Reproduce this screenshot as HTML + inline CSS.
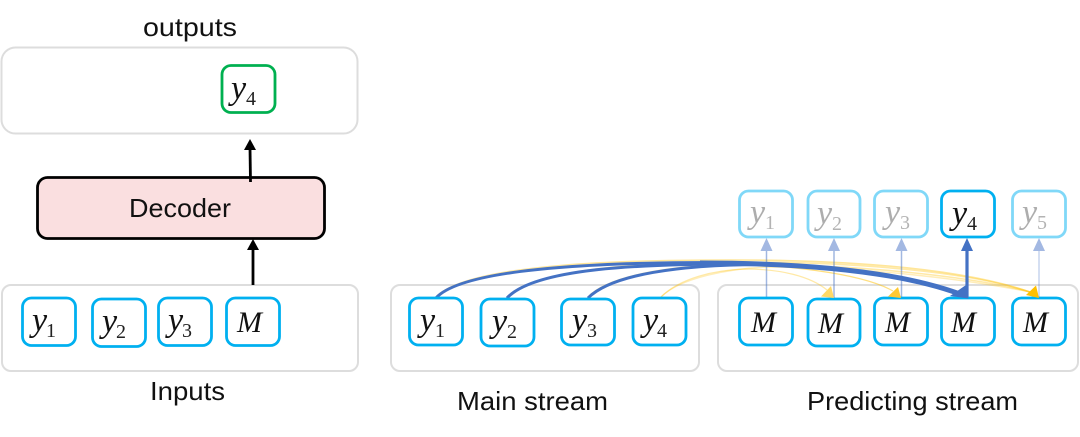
<!DOCTYPE html>
<html><head><meta charset="utf-8"><style>
html,body{margin:0;padding:0;background:#fff;width:1080px;height:437px;overflow:hidden}
svg{display:block}
.t{font-family:"Liberation Sans",sans-serif;font-size:26px;fill:#111}
.v{font-family:"Liberation Serif",serif;font-style:italic;font-size:34px;fill:#111}
.m{font-family:"Liberation Serif",serif;font-style:italic;font-size:30px;fill:#111}
.s{font-family:"Liberation Serif",serif;font-size:20px;fill:#222}
.g{fill:none;stroke:#ddd;stroke-width:2}
.b{fill:#fff;stroke:#00b0f0;stroke-width:2.8}
.l{fill:#fff;stroke:#80d8f8;stroke-width:2.8}
.f{opacity:.34}
</style></head><body>
<svg width="1080" height="437" viewBox="0 0 1080 437" xmlns="http://www.w3.org/2000/svg">
<!-- containers -->
<rect class="g" x="1.5" y="47.5" width="356" height="86" rx="14"/>
<rect class="g" x="2" y="285" width="356" height="86" rx="9"/>
<rect class="g" x="391" y="285" width="308" height="86" rx="9"/>
<rect class="g" x="718" y="285" width="360" height="86" rx="9"/>

<text class="t" x="143" y="36" textLength="94" lengthAdjust="spacingAndGlyphs">outputs</text>
<text class="t" x="150" y="400" textLength="75" lengthAdjust="spacingAndGlyphs">Inputs</text>
<text class="t" x="457" y="410" textLength="151" lengthAdjust="spacingAndGlyphs">Main stream</text>
<text class="t" x="807" y="410" textLength="211" lengthAdjust="spacingAndGlyphs">Predicting stream</text>

<!-- left side -->
<rect x="222" y="65.5" width="53" height="47" rx="9" fill="#fff" stroke="#00b050" stroke-width="2.8"/>
<text class="v" x="231" y="99">y</text><text class="s" x="246" y="105">4</text>
<rect x="37.5" y="177.5" width="287" height="61" rx="10" fill="#fadfe0" stroke="#000" stroke-width="2.8"/>
<text class="t" x="129" y="217" textLength="102" lengthAdjust="spacingAndGlyphs">Decoder</text>
<path d="M250.5 182 L250 148" stroke="#000" stroke-width="2.8" fill="none"/>
<path d="M250 139 L256 150 L244 150Z" fill="#000"/>
<path d="M253 285 V248" stroke="#000" stroke-width="2.8" fill="none"/>
<path d="M253 239 L259 250 L247 250Z" fill="#000"/>

<rect class="b" x="22.5" y="298" width="53" height="47.5" rx="9"/>
<text class="v" x="32" y="331">y</text><text class="s" x="46" y="337">1</text>
<rect class="b" x="92.5" y="299" width="53" height="47.5" rx="9"/>
<text class="v" x="102" y="332">y</text><text class="s" x="116" y="338">2</text>
<rect class="b" x="158.5" y="298" width="53" height="47.5" rx="9"/>
<text class="v" x="168" y="331">y</text><text class="s" x="182" y="337">3</text>
<rect class="b" x="226.5" y="298" width="53" height="47.5" rx="9"/>
<text class="m" x="237" y="332">M</text>

<!-- yellow curves -->
<g fill="none" stroke="#ffc000">
<path d="M436 297 C470 262,640 260,730 260 C850 260,960 268,1030 292" stroke-width="1.6" opacity=".4"/>
<path d="M507 297 C540 266,660 262,740 262 C860 262,970 272,1030 292" stroke-width="1.6" opacity=".35"/>
<path d="M588 297 C610 274,680 264,750 264 C860 265,970 276,1030 292" stroke-width="1.6" opacity=".35"/>
<path d="M661 297 C680 278,730 268,770 267 C870 267,970 280,1030 292" stroke-width="1.4" opacity=".28"/>
<path d="M436 297 C480 262,640 262,720 263 C780 265,860 272,893 291" stroke-width="1.2" opacity=".5"/>
<path d="M661 297 C680 278,715 270,745 269 C780 269,810 276,827 290" stroke-width="1.2" opacity=".35"/>
</g>

<!-- blue up arrows (faded) -->
<g stroke="#4472c4" stroke-width="1.5" opacity=".5" fill="none">
<path d="M766.5 298 V248"/><path d="M834 298 V248"/><path d="M901.5 298 V248"/>
</g>
<path d="M1039 298 V248" stroke="#4472c4" stroke-width="1.5" opacity=".3" fill="none"/>
<g fill="#a3b8e2">
<path d="M766.5 238 L772.5 251 L760.5 251Z"/><path d="M834 238 L840 251 L828 251Z"/>
<path d="M901.5 238 L907.5 251 L895.5 251Z"/><path d="M1039 238 L1045 251 L1033 251Z"/>
</g>

<!-- blue curves -->
<g fill="none" stroke="#4472c4">
<path d="M436 298 C465 266,620 262,730 262.5" stroke-width="3"/>
<path d="M507 298 C535 268,640 264,740 264" stroke-width="3"/>
<path d="M588 298 C612 274,680 265,760 264.5" stroke-width="3"/>
<path d="M700 263 C810 263,900 272,960 294" stroke-width="5"/>
<path d="M967 298 V248" stroke-width="3.2"/>
</g>
<path d="M967 238 L973 251 L961 251Z" fill="#4472c4"/>

<!-- main stream -->
<rect class="b" x="409.5" y="298" width="53" height="47" rx="9"/>
<text class="v" x="420" y="331">y</text><text class="s" x="435" y="337">1</text>
<rect class="b" x="481" y="299" width="53" height="47" rx="9"/>
<text class="v" x="492" y="332">y</text><text class="s" x="507" y="338">2</text>
<rect class="b" x="561.5" y="299" width="53" height="46" rx="9"/>
<text class="v" x="572" y="331">y</text><text class="s" x="587" y="337">3</text>
<rect class="b" x="633" y="298" width="53" height="47" rx="9"/>
<text class="v" x="643" y="331">y</text><text class="s" x="657" y="337">4</text>

<!-- predicting stream M -->
<rect class="b" x="739.5" y="298" width="53" height="47" rx="9"/><text class="m" x="751" y="332">M</text>
<rect class="b" x="808" y="299" width="52" height="47" rx="9"/><text class="m" x="818" y="333">M</text>
<rect class="b" x="874.5" y="298" width="53" height="47" rx="9"/><text class="m" x="885" y="332">M</text>
<rect class="b" x="941.5" y="298" width="53" height="47" rx="9"/><text class="m" x="951" y="332">M</text>
<rect class="b" x="1012.5" y="298" width="53" height="47" rx="9"/><text class="m" x="1023" y="332">M</text>

<!-- arrowheads landing on the M boxes -->
<path d="M834 298 L821 296.5 L831 286Z" fill="#ffd966"/>
<path d="M901 298 L888 296.5 L898 287Z" fill="#ffc933"/>
<path d="M1039 298 L1026 295 L1036 285.5Z" fill="#ffc000"/>
<path d="M968.5 298.5 L950 296 L966 285Z" fill="#4472c4"/>

<!-- predictions -->
<rect class="l" x="739.5" y="191" width="53" height="46" rx="9"/>
<g class="f"><text class="v" x="750" y="223">y</text><text class="s" x="765" y="229">1</text></g>
<rect class="l" x="808" y="191" width="52" height="46" rx="9"/>
<g class="f"><text class="v" x="817" y="224">y</text><text class="s" x="832" y="230">2</text></g>
<rect class="l" x="874.5" y="191" width="53" height="46" rx="9"/>
<g class="f"><text class="v" x="885" y="223">y</text><text class="s" x="900" y="229">3</text></g>
<rect class="b" x="941.5" y="191" width="53" height="46" rx="9"/>
<text class="v" x="952" y="224">y</text><text class="s" x="967" y="230">4</text>
<rect class="l" x="1012.5" y="191" width="53" height="46" rx="9"/>
<g class="f"><text class="v" x="1022" y="223">y</text><text class="s" x="1037" y="229">5</text></g>
</svg>
</body></html>
